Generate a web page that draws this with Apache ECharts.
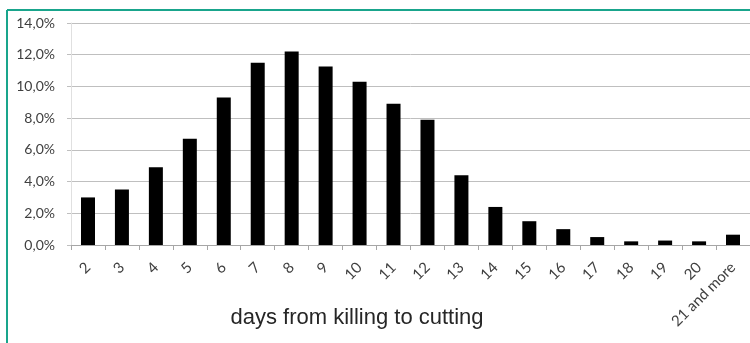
<!DOCTYPE html>
<html>
<head>
<meta charset="utf-8">
<script src="https://cdn.jsdelivr.net/npm/echarts@6/dist/echarts.min.js"></script>
<style>
  html, body { margin: 0; padding: 0; background: #fff; }
  #chart { width: 750px; height: 343px; }
</style>
</head>
<body>
<div id="chart"></div>
<script>
const categories = ['2', '3', '4', '5', '6', '7', '8', '9', '10', '11', '12', '13', '14', '15', '16', '17', '18', '19', '20', '21 and more'];
const shareValues = [3.0, 3.5, 4.9, 6.7, 9.3, 11.5, 12.2, 11.25, 10.3, 8.9, 7.9, 4.4, 2.4, 1.5, 1.0, 0.5, 0.23, 0.28, 0.23, 0.65];
const axisTitle = 'days from killing to cutting';

const chart = echarts.init(document.getElementById('chart'));

const option = {
    backgroundColor: '#fff',
    animation: false,
    grid: { left: 71, right: 0, top: 23, bottom: 98 },
    xAxis: {
        type: 'category',
        data: categories,
        axisLine: { lineStyle: { color: '#a6a6a6', width: 1 } },
        axisTick: { show: true, length: 5, lineStyle: { color: '#a6a6a6' } },
        axisLabel: {
            rotate: 45,
            interval: 0,
            margin: 20,
            fontFamily: 'Lato',
            fontSize: 15,
            color: '#404040'
        }
    },
    yAxis: {
        type: 'value',
        min: 0,
        max: 14,
        interval: 2,
        axisLine: { show: true, lineStyle: { color: '#e0e0e0' } },
        axisTick: { show: true, length: 4, lineStyle: { color: '#bfbfbf' } },
        splitLine: { lineStyle: { color: '#bfbfbf', width: 1 } },
        axisLabel: {
            margin: 16,
            fontFamily: 'Lato',
            fontSize: 14,
            color: '#404040',
            formatter: v => v.toFixed(1).replace('.', ',') + '%'
        }
    },
    series: [{
        type: 'bar',
        data: shareValues,
        barWidth: 14,
        itemStyle: { color: '#000' }
    }],
    graphic: [
        { type: 'line', shape: { x1: 7, y1: 10, x2: 750, y2: 10 }, style: { stroke: '#19a58c', lineWidth: 2 } },
        { type: 'line', shape: { x1: 7, y1: 10, x2: 7, y2: 343 }, style: { stroke: '#19a58c', lineWidth: 2 } },
        {
            type: 'text',
            x: 357,
            y: 318,
            style: {
                text: axisTitle,
                align: 'center',
                verticalAlign: 'middle',
                font: '22px "Liberation Sans"',
                fill: '#262626'
            }
        }
    ]
};

chart.setOption(option);
</script>
</body>
</html>
